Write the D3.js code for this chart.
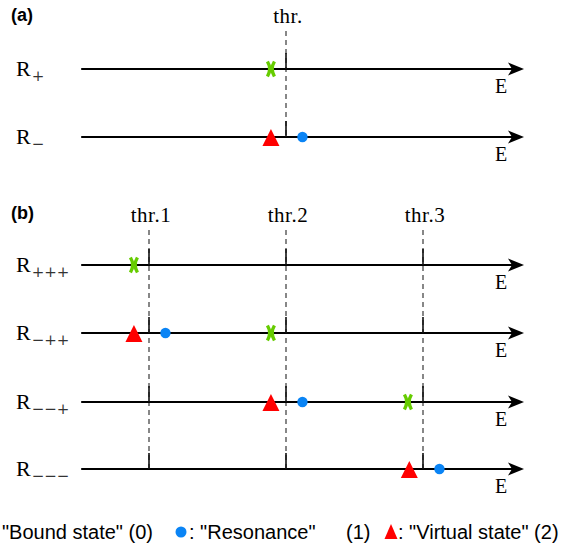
<!doctype html>
<html>
<head>
<meta charset="utf-8">
<script src="https://cdn.jsdelivr.net/npm/d3@7/dist/d3.min.js"></script>
<style>
  body { margin: 0; background: #fff; }
  .serif { font-family: "Liberation Serif", "DejaVu Serif", serif; }
  .sans { font-family: "Liberation Sans", Arial, sans-serif; }
</style>
</head>
<body>
<svg id="chart" width="574" height="548"></svg>
<script>
// channel labels (subscripts of R)
const channelsA = ["+", "\u2212"];
const channelsB = ["+++", "\u2212++", "\u2212\u2212+", "\u2212\u2212\u2212"];
// threshold energies and labels
const thresholdsA = [2];
const thrLabelsA = ["thr."];
const thresholdsB = [1, 2, 3];
const thrLabelsB = ["thr.1", "thr.2", "thr.3"];
// poles: [row, energy]
const boundA = [[0, 1.89]];
const resonanceA = [[1, 2.12]];
const virtualA = [[1, 1.89]];
const boundB = [[0, 0.89], [1, 1.89], [2, 2.89]];
const resonanceB = [[1, 1.12], [2, 2.12], [3, 3.12]];
const virtualB = [[1, 0.89], [2, 1.89], [3, 2.9]];
// legend texts
const legendTexts = ["\"Bound state\" (0)", ": \"Resonance\"", "(1)", ": \"Virtual state\" (2)"];

const svg = d3.select("#chart");
const x = d3.scaleLinear().domain([0, 3]).range([12, 423]);
const eMin = 0.505, eMax = 3.73;

const green = "#66cc00", blue = "#0a84f5", red = "#ff0000";

function panel(label, labelY, channels, rowY, thresholds, thrLabels, thrY, bound, res, virt) {
  const g = svg.append("g");
  g.append("text").attr("class", "sans").attr("x", 11).attr("y", labelY)
    .style("font-weight", "bold").style("font-size", "18px").text(label);

  const y = i => rowY[i];
  const top = thrY + 8, bottom = rowY[rowY.length - 1];

  // dashed threshold lines
  g.selectAll(".thr").data(thresholds).enter().append("line")
    .attr("x1", d => x(d)).attr("x2", d => x(d))
    .attr("y1", top).attr("y2", bottom)
    .attr("stroke", "#555").attr("stroke-width", 1.4)
    .attr("stroke-dasharray", "5,4");

  g.selectAll(".thrlab").data(thresholds).enter().append("text")
    .attr("class", "serif")
    .attr("x", d => x(d) + 2).attr("y", thrY)
    .attr("text-anchor", "middle").style("font-size", "21px")
    .style("letter-spacing", "0.5px")
    .text((d, i) => thrLabels[i]);

  channels.forEach((c, i) => {
    const yy = y(i);
    const tip = x(eMax) + 1;
    g.append("line").attr("x1", x(eMin)).attr("x2", tip - 10)
      .attr("y1", yy).attr("y2", yy)
      .attr("stroke", "#000").attr("stroke-width", 2);
    g.append("path")
      .attr("d", `M${tip},${yy} L${tip - 16},${yy - 6.5} L${tip - 12},${yy} L${tip - 16},${yy + 6.5} Z`)
      .attr("fill", "#000");
    g.append("text").attr("class", "serif")
      .attr("x", x(eMax) - 28).attr("y", yy + 24)
      .style("font-size", "20px").text("E");
    // solid ticks at thresholds
    g.selectAll(null).data(thresholds).enter().append("line")
      .attr("x1", d => x(d)).attr("x2", d => x(d))
      .attr("y1", yy - 16).attr("y2", yy)
      .attr("stroke", "#111").attr("stroke-width", 1.6);
    const t = g.append("text")
      .attr("x", 16).attr("y", yy + 7);
    t.append("tspan").attr("class", "serif").style("font-size", "22px").text("R");
    t.append("tspan").attr("dy", 5).attr("dx", 1)
      .style("font-family", "DejaVu Serif, serif").style("font-size", "15px")
      .attr("fill", "#333").text(c);
  });

  bound.forEach(([r, e]) => {
    const cx = x(e), cy = y(r);
    g.append("path")
      .attr("d", `M${cx - 3.5},${cy - 7.5} Q${cx + 1},${cy} ${cx - 3.5},${cy + 7.5} M${cx + 3.5},${cy - 7.5} Q${cx - 1},${cy} ${cx + 3.5},${cy + 7.5}`)
      .attr("fill", "none").attr("stroke", green).attr("stroke-width", 3.4);
  });
  res.forEach(([r, e]) => {
    g.append("circle").attr("cx", x(e)).attr("cy", y(r)).attr("r", 5.2).attr("fill", blue);
  });
  virt.forEach(([r, e]) => {
    const cx = x(e), cy = y(r);
    g.append("path")
      .attr("d", `M${cx},${cy - 8} L${cx + 8.5},${cy + 9} L${cx - 8.5},${cy + 9} Z`)
      .attr("fill", red);
  });
}

panel("(a)", 21, channelsA, [69, 137], thresholdsA, thrLabelsA, 23, boundA, resonanceA, virtualA);
panel("(b)", 219, channelsB, [265, 333, 402, 469], thresholdsB, thrLabelsB, 222, boundB, resonanceB, virtualB);

// legend
const lg = svg.append("g").attr("class", "sans").style("font-size", "20px");
const ly = 539;
const lgX = [2, 189, 346, 398];
legendTexts.forEach((s, i) => lg.append("text").attr("x", lgX[i]).attr("y", ly).text(s));
lg.append("circle").attr("cx", 181).attr("cy", ly - 7).attr("r", 5.5).attr("fill", blue);
lg.append("path").attr("d", `M391,${ly - 15} L397.5,${ly} L384.5,${ly} Z`).attr("fill", red);
</script>
</body>
</html>
